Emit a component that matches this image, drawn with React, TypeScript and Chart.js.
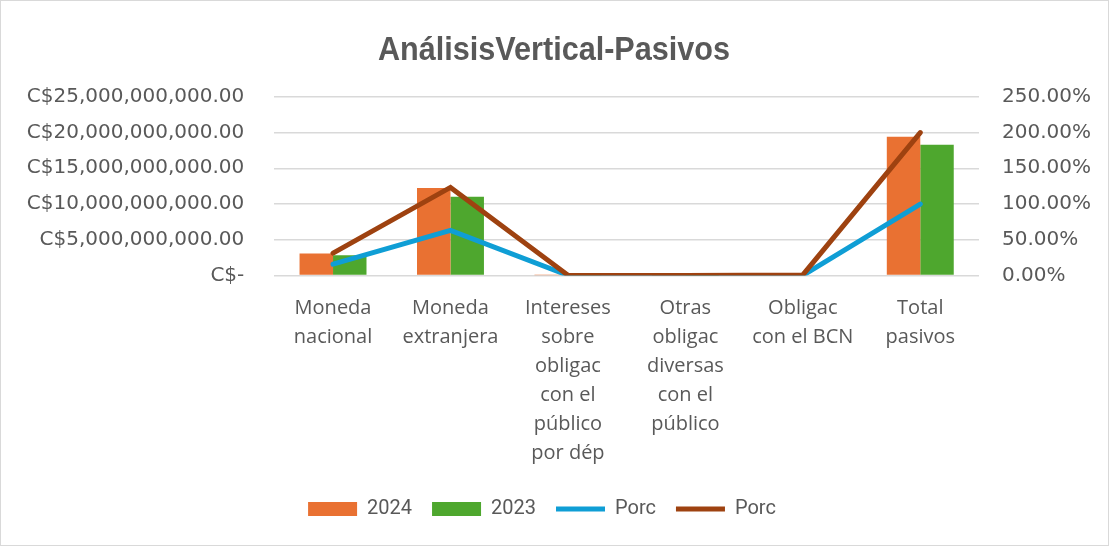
import React, { useEffect, useRef } from "react";
import { Chart, registerables } from "chart.js";

Chart.register(...registerables);

const titleText = "AnálisisVertical-Pasivos";

const categories: string[][] = [
  ["Moneda", "nacional"],
  ["Moneda", "extranjera"],
  ["Intereses", "sobre", "obligac", "con el", "público", "por dép"],
  ["Otras", "obligac", "diversas", "con el", "público"],
  ["Obligac", "con el BCN"],
  ["Total", "pasivos"],
];

const values2024: number[] = [3.07e9, 12.25e9, 0.05e9, 0.01e9, 0.02e9, 19.4e9];
const values2023: number[] = [2.84e9, 11.0e9, 0.04e9, 0.01e9, 0.12e9, 18.3e9];
const porcBlue: number[] = [15.8, 63.1, 0.3, 0.05, 0.1, 100];
const porcBrown: number[] = [31.3, 123.2, 0.5, 0.1, 0.8, 200];

const leftTicks: number[] = [0, 5e9, 10e9, 15e9, 20e9, 25e9];
const rightTicks: number[] = [0, 50, 100, 150, 200, 250];

const TEXT = "#595959";
const GRID = "#d9d9d9";

const titlePlugin = {
  id: "narrowTitle",
  afterDraw(chart: any) {
    const ctx = chart.ctx;
    ctx.save();
    ctx.font = "bold 34px 'Liberation Sans', Arial, sans-serif";
    ctx.fillStyle = TEXT;
    ctx.textAlign = "center";
    ctx.textBaseline = "alphabetic";
    ctx.translate(chart.width / 2, 58.5);
    ctx.scale(0.9, 1);
    ctx.fillText(titleText, 0, 0);
    ctx.restore();
  },
};

const legendShift = {
  id: "legendShift",
  afterLayout(chart: any) {
    const l = chart.legend;
    if (!l) return;
    l.left -= 12;
    l.right -= 12;
    l.top -= 7.5;
    l.bottom -= 7.5;
  },
};

export default function App() {
  const ref = useRef<HTMLCanvasElement | null>(null);

  useEffect(() => {
    document.body.style.margin = "0";
    const canvas = ref.current;
    if (!canvas) return;
    const chart = new Chart(canvas, {
      type: "bar",
      data: {
        labels: categories,
        datasets: [
          {
            type: "bar",
            label: "2024",
            data: values2024,
            backgroundColor: "#E97132",
            borderWidth: 0,
            yAxisID: "y",
            order: 3,
            pointStyle: "rect",
          } as any,
          {
            type: "bar",
            label: "2023",
            data: values2023,
            backgroundColor: "#4EA72E",
            borderWidth: 0,
            yAxisID: "y",
            order: 3,
            pointStyle: "rect",
          } as any,
          {
            type: "line",
            label: "Porc",
            data: porcBlue,
            borderColor: "#0F9ED5",
            backgroundColor: "#0F9ED5",
            borderWidth: 5,
            borderCapStyle: "round",
            pointRadius: 0,
            pointHoverRadius: 0,
            yAxisID: "y1",
            order: 2,
            pointStyle: "line",
          } as any,
          {
            type: "line",
            label: "Porc",
            data: porcBrown,
            borderColor: "#9E4210",
            backgroundColor: "#9E4210",
            borderWidth: 5,
            borderCapStyle: "round",
            pointRadius: 0,
            pointHoverRadius: 0,
            yAxisID: "y1",
            order: 1,
            pointStyle: "line",
          } as any,
        ],
      },
      options: {
        responsive: false,
        animation: false,
        layout: { padding: { left: 0, right: 0, top: 95.8, bottom: 7.5 } },
        datasets: {
          bar: { categoryPercentage: 0.57, barPercentage: 1 },
        },
        plugins: {
          tooltip: { enabled: false },
          title: { display: false },
          legend: {
            position: "bottom",
            labels: {
              usePointStyle: true,
              pointStyleWidth: 49,
              boxHeight: 14,
              padding: 20,
              color: TEXT,
              font: { family: "Roboto, sans-serif", size: 20 },
              sort: (a: any, b: any) => a.datasetIndex - b.datasetIndex,
            },
          },
        },
        scales: {
          x: {
            grid: { display: false, drawTicks: false },
            border: { display: false },
            ticks: {
              color: TEXT,
              maxRotation: 0,
              autoSkip: false,
              padding: 18.5,
              font: { family: "'Open Sans', sans-serif", size: 20, lineHeight: 1.45 },
            },
          },
          y: {
            position: "left",
            min: 0,
            max: 25e9,
            afterBuildTicks: (scale: any) => {
              scale.ticks = leftTicks.map((v) => ({ value: v }));
            },
            afterFit: (scale: any) => {
              scale.width = 273.3;
            },
            grid: { color: GRID, lineWidth: 1.5, drawTicks: false },
            border: { display: false },
            ticks: {
              color: TEXT,
              padding: 30,
              font: { family: "'DejaVu Sans', sans-serif", size: 20 },
              callback: (v: any) =>
                Number(v) === 0
                  ? "C$-"
                  : "C$" +
                    Number(v).toLocaleString("en-US", {
                      minimumFractionDigits: 2,
                      maximumFractionDigits: 2,
                    }),
            },
          },
          y1: {
            position: "right",
            min: 0,
            max: 250,
            afterBuildTicks: (scale: any) => {
              scale.ticks = rightTicks.map((v) => ({ value: v }));
            },
            afterFit: (scale: any) => {
              scale.width = 128;
            },
            grid: { display: false, drawTicks: false },
            border: { display: false },
            ticks: {
              color: TEXT,
              padding: 23,
              font: { family: "'DejaVu Sans', sans-serif", size: 20 },
              callback: (v: any) => Number(v).toFixed(2) + "%",
            },
          },
        },
      } as any,
      plugins: [titlePlugin, legendShift],
    });
    return () => chart.destroy();
  }, []);

  return (
    <div
      style={{
        position: "relative",
        width: 1109,
        height: 546,
        boxSizing: "border-box",
        border: "1.5px solid #d9d9d9",
        background: "#fff",
        overflow: "hidden",
      }}
    >
      <canvas ref={ref} width={1106} height={543} style={{ display: "block" }} />
    </div>
  );
}
